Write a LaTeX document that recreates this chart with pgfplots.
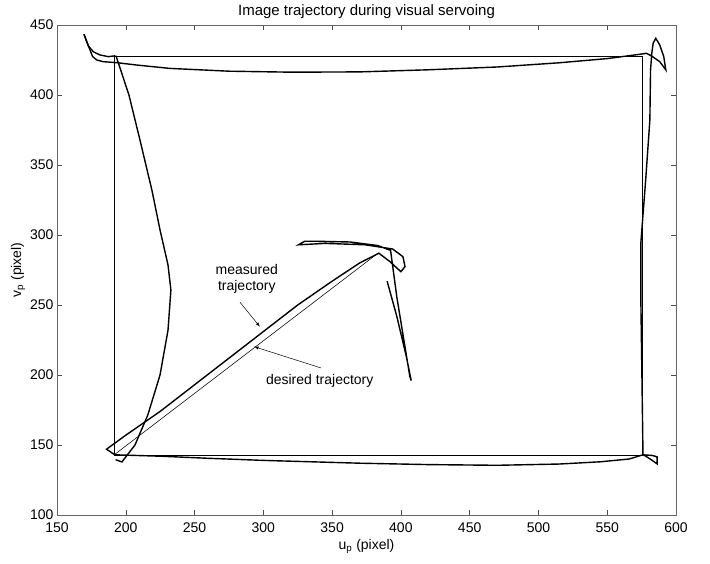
\documentclass[border=0pt]{standalone}
\usepackage{pgfplots}
\pgfplotsset{compat=1.18}
\usepackage{fontspec}
\setmainfont{Liberation Sans}
\begin{document}
\begin{tikzpicture}
\useasboundingbox (-57pt,-49pt) rectangle (653pt,515pt);
\begin{axis}[
  at={(0,0)}, anchor=south west,
  scale only axis, width=619pt, height=490pt,
  xmin=150, xmax=600, ymin=100, ymax=450,
  xtick={150,200,...,600}, ytick={100,150,...,450},
  tick align=inside, major tick length=5pt,
  axis line style={draw=black!60, line width=0.6pt},
  every tick/.style={black!70, line width=0.5pt},
  tick label style={font=\fontsize{14}{16}\selectfont},
  xticklabel style={yshift=-4pt},
  /pgf/number format/assume math mode=true,
  xlabel={u\textsubscript{p} (pixel)},
  ylabel={v\textsubscript{p} (pixel)},
  label style={font=\fontsize{14}{16}\selectfont},
  title={Image trajectory during visual servoing},
  title style={font=\fontsize{15}{17}\selectfont, at={(0.5,1)}, anchor=south, yshift=-3pt},
  xlabel style={yshift=0pt},
  ylabel style={yshift=-2pt},
  clip=false,
]
% desired trajectory (thin)
\addplot[black, line width=0.55pt] coordinates {
 (191.6,428) (575.6,428) (575.6,143) (191.6,143) (191.6,428)};
\addplot[black, line width=0.55pt] coordinates {
 (191.6,143) (382.3,286.2)};
% measured trajectory (thick)
\addplot[black, line width=1.4pt] coordinates {
 (169.6,443.4) (172.7,435.2) (176.4,430.9) (181.2,428.6) (187.3,427.4) (192.5,428)};
\addplot[black, line width=1.4pt] coordinates {
 (169.6,443.4) (173.5,433.4) (175.9,427.4) (178.9,425) (183.6,423.8) (193.4,423.1)
 (207.9,421.4) (232,419) (275,417) (320,416.3) (370,416.5) (420,418) (470,420)
 (515,423) (550,426) (575.4,429.3)};
\addplot[black, line width=1.4pt] coordinates {
 (575.4,429.3) (578.5,429.8) (582.2,427.9) (588.2,423.8) (592.6,417.9)
 (591.1,427.4) (588.2,435.7) (585.3,440.5) (583.4,437) (582.4,429.8)
 (581.5,417.9) (581,382) (578,340) (574.5,295) (574.5,250) (575.5,180) (576,143)};
\addplot[black, line width=1.4pt] coordinates {
 (576,143) (583,142.5) (586.3,141.5) (586.3,136.5) (582,139.5) (578,142) (576,143)};
\addplot[black, line width=1.4pt] coordinates {
 (192,143) (225,142) (260,140.5) (300,139) (370,137) (420,136) (470,135.5)
 (515,136.4) (545,138) (566,140) (576,143)};
\addplot[black, line width=1.4pt] coordinates {
 (192.9,428) (202.3,400) (210.3,367.9) (219,332) (224.9,303.6) (230.7,278.6)
 (232.8,260.7) (230.7,232) (224.9,200) (216,171.4) (206.7,150) (197.2,137.9) (192.6,139.5)};
\addplot[black, line width=1.4pt] coordinates {
 (390,267) (397,242) (404,213) (407.5,196) (406.5,199) (403,220) (397,256)
 (392.5,289) (383,292.5) (363,295) (340,295.5) (330,295.5) (325.5,293)
 (345,294) (374,293) (394,290) (401.5,284.5) (403,277.4) (400,273.8)
 (392,281) (384,287) (370,280) (350,267) (325,250) (300,231) (275,212)
 (250,193) (225,174) (200,157) (186,147) (192,143)};
% annotations
\node[font=\fontsize{14}{16}\selectfont, align=center] at (axis cs:288,268.5)
 {measured\\trajectory};
\draw[-latex, line width=0.5pt] (axis cs:283,252) -- (axis cs:297.5,234.5);
\node[font=\fontsize{14}{16}\selectfont] at (axis cs:341,195.7) {desired trajectory};
\draw[-latex, line width=0.5pt] (axis cs:342,205) -- (axis cs:293.4,220.2);
\end{axis}
\end{tikzpicture}
\end{document}
